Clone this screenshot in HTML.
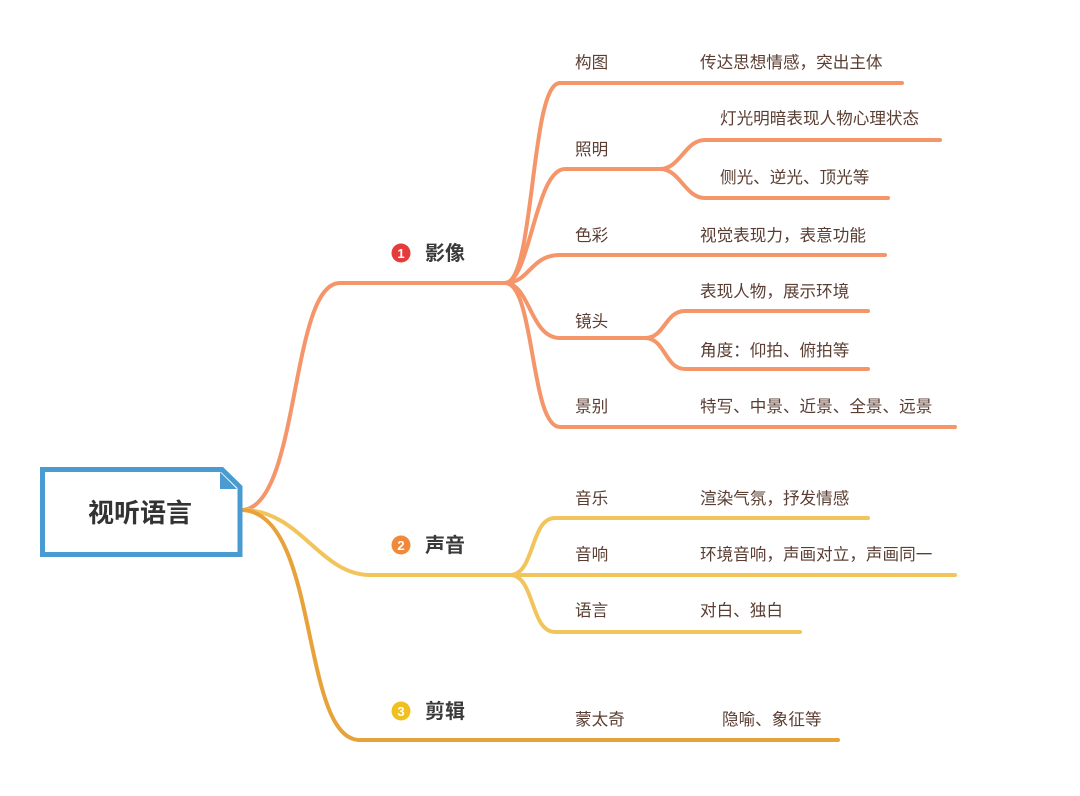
<!DOCTYPE html>
<html><head><meta charset="utf-8">
<style>
html,body{margin:0;padding:0;background:#fff;}
svg{display:block;}
text{font-family:"Liberation Sans","Noto Sans CJK SC",sans-serif;}
.s{font-size:16.6px;fill:#5b3e33;}
.m{font-size:20px;fill:#3a3a3a;font-weight:bold;}
</style></head><body>
<svg width="1080" height="796" viewBox="0 0 1080 796" xmlns="http://www.w3.org/2000/svg">
<rect width="1080" height="796" fill="#fff"/>
<g fill="none" stroke-linecap="round">
<g stroke="#f4956a" stroke-width="4">
<path d="M243,510 C300,505 290,283 340,283 L505,283"/>
<path d="M505,283 C535,283 530,83 560,83 L902,83"/>
<path d="M505,283 C530,283 535,169 565,169 L660,169"/>
<path d="M660,169 C680,169 685,140 705,140 L940,140"/>
<path d="M660,169 C680,169 685,198 705,198 L888,198"/>
<path d="M505,283 C530,283 530,255 560,255 L885,255"/>
<path d="M505,283 C530,283 530,338 560,338 L645,338"/>
<path d="M645,338 C665,338 665,311 685,311 L868,311"/>
<path d="M645,338 C665,338 665,369 685,369 L868,369"/>
<path d="M505,283 C535,283 530,427 560,427 L955,427"/>
</g>
<g stroke="#f2c55c" stroke-width="4">
<path d="M243,510 C300,510 320,575 370,575 L510,575"/>
<path d="M510,575 C535,575 530,518 555,518 L868,518"/>
<path d="M510,575 L955,575"/>
<path d="M510,575 C535,575 530,632 555,632 L800,632"/>
</g>
<path stroke="#e8a23a" stroke-width="4" d="M243,510 C320,515 300,740 360,740 L838,740"/>
</g>
<path d="M42.5,469.5 L222,469.5 L240,487 L240,554.5 L42.5,554.5 Z" fill="#fff" stroke="#4a9bd1" stroke-width="5" stroke-linejoin="miter"/>
<path d="M220,472 L237,489 L220,489 Z" fill="#4a9bd1"/>
<text x="140" y="522" font-size="26" font-weight="bold" fill="#333" text-anchor="middle">视听语言</text>
<circle cx="401" cy="253" r="9.5" fill="#e63b3b"/><text x="401" y="258" font-size="13" fill="#fff" text-anchor="middle" font-weight="bold">1</text>
<text class="m" x="425" y="260">影像</text>
<circle cx="401" cy="545" r="9.5" fill="#f08a3a"/><text x="401" y="550" font-size="13" fill="#fff" text-anchor="middle" font-weight="bold">2</text>
<text class="m" x="425" y="552">声音</text>
<circle cx="401" cy="711" r="9.5" fill="#f0c020"/><text x="401" y="716" font-size="13" fill="#fff" text-anchor="middle" font-weight="bold">3</text>
<text class="m" x="425" y="718">剪辑</text>
<text class="s" x="575" y="68">构图</text>
<text class="s" x="700" y="68">传达思想情感，突出主体</text>
<text class="s" x="575" y="155">照明</text>
<text class="s" x="720" y="124">灯光明暗表现人物心理状态</text>
<text class="s" x="720" y="183">侧光、逆光、顶光等</text>
<text class="s" x="575" y="241">色彩</text>
<text class="s" x="700" y="241">视觉表现力，表意功能</text>
<text class="s" x="700" y="297">表现人物，展示环境</text>
<text class="s" x="575" y="327">镜头</text>
<text class="s" x="700" y="356">角度：仰拍、俯拍等</text>
<text class="s" x="575" y="412">景别</text>
<text class="s" x="700" y="412">特写、中景、近景、全景、远景</text>
<text class="s" x="575" y="504">音乐</text>
<text class="s" x="700" y="504">渲染气氛，抒发情感</text>
<text class="s" x="575" y="560">音响</text>
<text class="s" x="700" y="560">环境音响，声画对立，声画同一</text>
<text class="s" x="575" y="616">语言</text>
<text class="s" x="700" y="616">对白、独白</text>
<text class="s" x="575" y="725">蒙太奇</text>
<text class="s" x="722" y="725">隐喻、象征等</text>
</svg>
</body></html>
